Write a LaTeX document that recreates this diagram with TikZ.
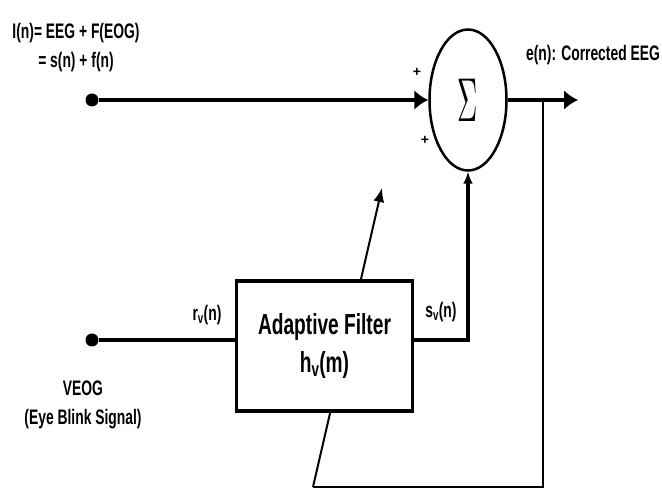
\documentclass[tikz,border=0pt]{standalone}
\usepackage{fontspec}
\setmainfont{Liberation Sans}
\usepackage{graphicx}
\usetikzlibrary{arrows.meta, shapes, positioning}
\newcommand{\narrow}[1]{\scalebox{0.66}[1]{#1}}

\begin{document}
\begin{tikzpicture}[x=1pt, y=1pt, >={Latex[length=14pt, width=20pt]},
  sig/.style={line width=3.5pt},
  fb/.style={line width=2pt},
  dot/.style={circle, fill=black, inner sep=0pt, minimum size=13pt},
  lbl/.style={font=\fontsize{21}{29}\selectfont\bfseries, align=center, inner sep=0pt},
  sumnode/.style={draw, ellipse, line width=2.5pt, minimum width=77pt, minimum height=141pt, inner sep=0pt},
  filt/.style={draw, fill=white, line width=3.5pt, minimum width=176pt, minimum height=130pt,
    align=center, font=\fontsize{29}{38}\selectfont\bfseries}]
  \useasboundingbox (0,0) rectangle (662,490);
  % Nodes
  \node[dot] (in) at (92,390) {};
  \node[dot] (veog) at (92,150) {};
  \node[sumnode] (sum) at (468,390) {\scalebox{2.8}[6.2]{$\Sigma$}};
  \coordinate (out) at (578,390);
  \coordinate (tap) at (543,390);
  \coordinate (low) at (543,3);
  \coordinate (adj0) at (313,3);
  \coordinate (adj1) at (382,302);
  % Adaptation arrow (runs behind the filter)
  \draw[fb, -{Latex[length=14pt, width=11pt]}] (adj0) -- (adj1);
  \node[filt] (filter) at (324.5,144) {\narrow{Adaptive Filter}\\ \narrow{h\textsubscript{v}(m)}};
  % Signal wires
  \draw[sig, ->] (in) -- (sum.west);
  \draw[sig, ->] (sum.east) -- (out);
  \draw[sig] (veog) -- (veog -| filter.west);
  \draw[sig, -{Latex[length=12pt, width=10pt]}] (filter.east |- veog) -| (sum.south);
  % Error feedback
  \draw[fb] (tap) -- (low) -- (adj0);
  % Labels
  \node[lbl] (inlbl) at (76,442) {\narrow{I(n)= EEG + F(EOG)}\\ \narrow{= s(n) + f(n)}};
  \node[lbl] (outlbl) at (593,435) {\narrow{e(n): Corrected EEG}};
  \node[lbl] (rlbl) at (207,175) {\narrow{r\textsubscript{v}(n)}};
  \node[lbl] (slbl) at (441,178) {\narrow{s\textsubscript{v}(n)}};
  \node[lbl] (veoglbl) at (83,85) {\narrow{VEOG}\\ \narrow{(Eye Blink Signal)}};
  \node[font=\fontsize{14}{14}\selectfont\bfseries] (plus1) at (417,418) {+};
  \node[font=\fontsize{14}{14}\selectfont\bfseries] (plus2) at (425,350) {+};
\end{tikzpicture}
\end{document}
